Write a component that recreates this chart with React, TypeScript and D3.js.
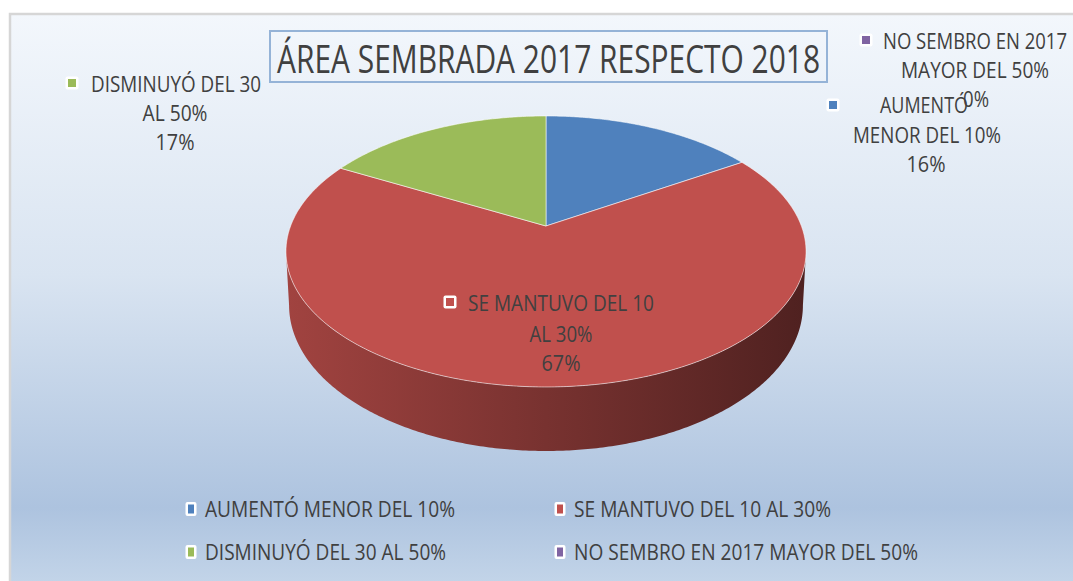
import React, { useRef, useEffect } from "react";
import * as d3 from "d3";

// chart data
const categories = [
  "AUMENTÓ MENOR DEL 10%",
  "SE MANTUVO DEL 10 AL 30%",
  "DISMINUYÓ DEL 30 AL 50%",
  "NO SEMBRO EN 2017 MAYOR DEL 50%",
];
const values = [16, 67, 17, 0];
const colors = ["#4f81bd", "#c0504d", "#9bbb59", "#8064a2"];
const labelLines = [
  ["AUMENTÓ", "MENOR DEL 10%"],
  ["SE MANTUVO DEL 10", "AL 30%"],
  ["DISMINUYÓ DEL 30", "AL 50%"],
  ["NO SEMBRO EN 2017", "MAYOR DEL 50%"],
];
const title = "ÁREA SEMBRADA 2017 RESPECTO 2018";

// label placement (marker position + line centers / widths)
const labelLayout = [
  { mx: 833, my: 105, lines: [[924, 105, 88], [927, 135, 148], [926, 164, 39]] },
  { mx: 450, my: 302, lines: [[561, 303, 186], [561, 334, 63], [561, 363, 39]] },
  { mx: 72, my: 83, lines: [[176, 84, 170], [175, 113, 65], [175, 142, 39]] },
  { mx: 866, my: 40, lines: [[975, 41, 184], [975, 70, 148], [976, 99, 26]] },
];
const legendLayout = [
  { x: 191, y: 509, w: 250 },
  { x: 560, y: 509, w: 257 },
  { x: 191, y: 552, w: 241 },
  { x: 560, y: 552, w: 344 },
];

const W = 1073;
const H = 581;
const FONT = "'Liberation Sans Narrow', 'Open Sans', sans-serif";
const TEXT = "#404040";

const App: React.FC = () => {
  const svgRef = useRef<SVGSVGElement | null>(null);

  useEffect(() => {
    const svg = d3.select(svgRef.current);
    svg.selectAll("*").remove();

    const defs = svg.append("defs");
    const bg = defs
      .append("linearGradient")
      .attr("id", "bg")
      .attr("x1", 0)
      .attr("y1", 0)
      .attr("x2", 0)
      .attr("y2", 1);
    bg.append("stop").attr("offset", "0%").attr("stop-color", "#f3f7fc");
    bg.append("stop").attr("offset", "45%").attr("stop-color", "#d9e4f1");
    bg.append("stop").attr("offset", "85%").attr("stop-color", "#adc3df");
    bg.append("stop").attr("offset", "100%").attr("stop-color", "#c6d7ea");

    svg.append("rect").attr("width", W).attr("height", H).attr("fill", "#ffffff");
    svg
      .append("rect")
      .attr("x", 10)
      .attr("y", 14)
      .attr("width", W + 20)
      .attr("height", H)
      .attr("fill", "url(#bg)")
      .attr("stroke", "#d6d6d6")
      .attr("stroke-width", 2.5);

    // 3D pie projection (perspective tilt)
    const cx = 546;
    const cy = 226;
    const p = 0.188;
    const sx = 255.4;
    const ky = 130.7;
    const depth = 52;
    const proj = (a: number, bottom = false): [number, number] => {
      const Z = Math.cos(a);
      const X = Math.sin(a);
      const den = 1 + p * Z;
      const x = cx + (sx * X) / den * (bottom ? 0.988 : 1);
      const y = cy - (ky * Z) / den + (bottom ? depth / den : 0);
      return [x, y];
    };
    const arcPts = (a0: number, a1: number, bottom = false) => {
      const n = Math.max(2, Math.ceil(Math.abs(a1 - a0) / 0.01));
      return d3.range(n + 1).map((i) => proj(a0 + ((a1 - a0) * i) / n, bottom));
    };

    const pie = d3.pie<number>().sort(null).value((d) => d)(values);
    const g = svg.append("g");

    // visible side
    const aR = Math.PI / 2 + Math.asin(p);
    const aL = 2 * Math.PI - aR;
    pie.forEach((s, i) => {
      const a0 = Math.max(s.startAngle, aR);
      const a1 = Math.min(s.endAngle, aL);
      if (a1 <= a0) return;
      const base = d3.color(colors[i])!;
      const grad = defs
        .append("linearGradient")
        .attr("id", `side${i}`)
        .attr("gradientUnits", "userSpaceOnUse")
        .attr("x1", proj(aL)[0])
        .attr("x2", proj(aR)[0])
        .attr("y1", 0)
        .attr("y2", 0);
      grad.append("stop").attr("offset", "0%").attr("stop-color", base.darker(0.5).toString());
      grad.append("stop").attr("offset", "100%").attr("stop-color", base.darker(2.5).toString());
      const pts = [...arcPts(a0, a1), ...arcPts(a1, a0, true)];
      g.append("path")
        .attr("d", d3.line()(pts) + "Z")
        .attr("fill", `url(#side${i})`);
    });

    // top faces
    pie.forEach((s, i) => {
      if (s.endAngle - s.startAngle <= 0) return;
      const pts: [number, number][] = [[cx, cy], ...arcPts(s.startAngle, s.endAngle)];
      g.append("path")
        .attr("d", d3.line()(pts) + "Z")
        .attr("fill", colors[i])
        .attr("stroke", "#ffffff")
        .attr("stroke-opacity", 0.55)
        .attr("stroke-width", 1);
    });

    // title
    svg
      .append("rect")
      .attr("x", 270)
      .attr("y", 31)
      .attr("width", 557)
      .attr("height", 51)
      .attr("fill", "none")
      .attr("stroke", "#95b3d7")
      .attr("stroke-width", 2);
    svg
      .append("text")
      .attr("x", 277)
      .attr("y", 73)
      .attr("textLength", 543)
      .attr("lengthAdjust", "spacingAndGlyphs")
      .style("font-family", FONT)
      .style("font-size", "39px")
      .style("fill", TEXT)
      .text(title);

    const marker = (x: number, y: number, c: string, w: number, h: number) => {
      svg
        .append("rect")
        .attr("x", x - w / 2 - 2.5)
        .attr("y", y - h / 2 - 2.5)
        .attr("width", w + 5)
        .attr("height", h + 5)
        .attr("rx", 2)
        .attr("fill", "#ffffff");
      svg
        .append("rect")
        .attr("x", x - w / 2)
        .attr("y", y - h / 2)
        .attr("width", w)
        .attr("height", h)
        .attr("fill", c);
    };

    const total = d3.sum(values);
    const fmt = d3.format(".0%");

    // data labels
    labelLayout.forEach((l, i) => {
      marker(l.mx, l.my, colors[i], 8, 8);
      const lines = [...labelLines[i], fmt(values[i] / total)];
      lines.forEach((t, j) => {
        const [x, y, w] = l.lines[j];
        svg
          .append("text")
          .attr("x", x)
          .attr("y", y)
          .attr("dy", "0.36em")
          .attr("text-anchor", "middle")
          .attr("textLength", w)
          .attr("lengthAdjust", "spacingAndGlyphs")
          .style("font-family", FONT)
          .style("font-size", "21px")
          .style("fill", TEXT)
          .text(t);
      });
    });

    // legend
    legendLayout.forEach((l, i) => {
      marker(l.x, l.y, colors[i], 6, 9);
      svg
        .append("text")
        .attr("x", l.x + 14)
        .attr("y", l.y)
        .attr("dy", "0.36em")
        .attr("textLength", l.w)
        .attr("lengthAdjust", "spacingAndGlyphs")
        .style("font-family", FONT)
        .style("font-size", "21px")
        .style("fill", TEXT)
        .text(categories[i]);
    });
  }, []);

  return (
    <svg
      ref={svgRef}
      width={W}
      height={H}
      style={{ position: "absolute", left: 0, top: 0, display: "block" }}
    />
  );
};

export default App;
